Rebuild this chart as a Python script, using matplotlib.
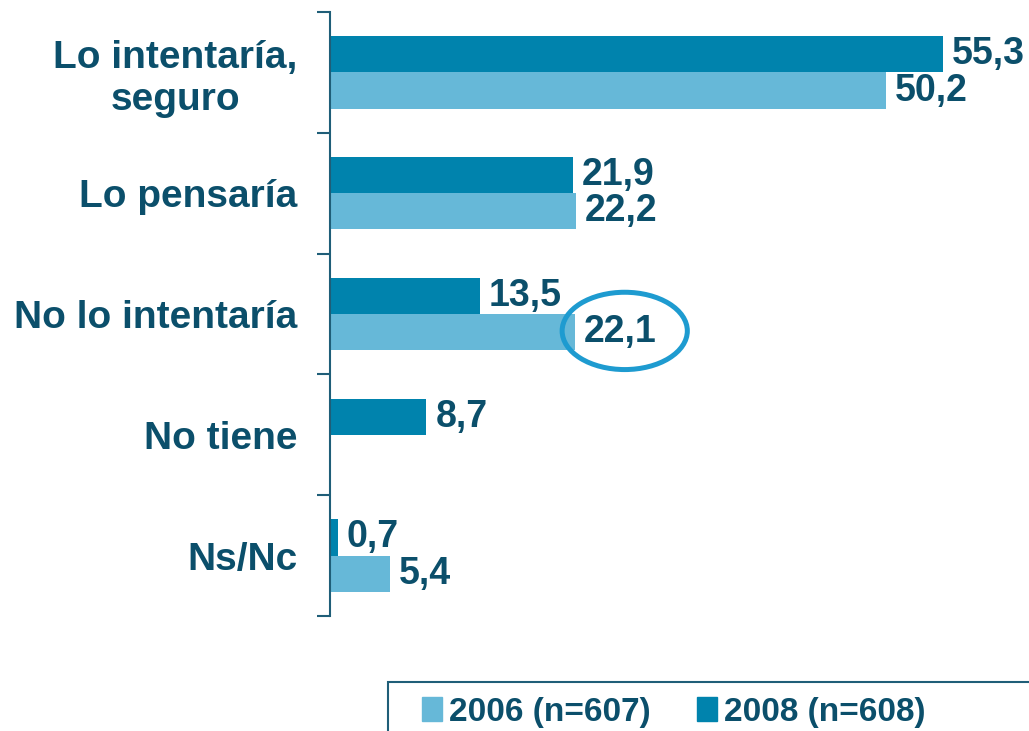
import matplotlib.pyplot as plt
from matplotlib.patches import Ellipse, Rectangle, Patch

categories = ["Lo intentaría,\nseguro", "Lo pensaría", "No lo intentaría", "No tiene", "Ns/Nc"]
vals_2008 = [55.3, 21.9, 13.5, 8.7, 0.7]
vals_2006 = [50.2, 22.2, 22.1, None, 5.4]
legend_labels = ["2006 (n=607)", "2008 (n=608)"]
highlight = 2  # "No lo intentaría", 2006 value circled

c_2006 = "#66B8D8"
c_2008 = "#0083AD"
c_text = "#0B4F6B"
c_axis = "#1F5E78"
c_ring = "#1E9BD0"

plt.rcParams['font.family'] = ['Liberation Sans', 'DejaVu Sans']
plt.rcParams['font.weight'] = 'bold'

W, H = 1029, 731
fig = plt.figure(figsize=(W / 100, H / 100), dpi=100)
ax = fig.add_axes([330 / W, 1 - 616 / H, (W - 330) / W, (616 - 12) / H])

bh = 0.3
y = list(range(len(categories)))
ax.barh([i - bh / 2 for i in y], vals_2008, height=bh, color=c_2008, zorder=2)
y06 = [i + bh / 2 for i, v in zip(y, vals_2006) if v is not None]
v06 = [v for v in vals_2006 if v is not None]
ax.barh(y06, v06, height=bh, color=c_2006, zorder=2)

ax.set_xlim(0, (W - 330) / 11.08)
ax.set_ylim(len(categories) - 0.5, -0.5)


def fmt(v):
    return f"{v:.1f}".replace(".", ",")


for i, v in enumerate(vals_2008):
    ax.annotate(fmt(v), (v, i - bh / 2), xytext=(9, 0), textcoords="offset pixels",
                va="center", ha="left", fontsize=27, color=c_text, fontweight="bold")
for i, v in enumerate(vals_2006):
    if v is None:
        continue
    ax.annotate(fmt(v), (v, i + bh / 2), xytext=(9, 0), textcoords="offset pixels",
                va="center", ha="left", fontsize=27, color=c_text, fontweight="bold")

# ring around the highlighted value
hv = vals_2006[highlight]
ax.add_patch(Ellipse((hv + 4.5, highlight + bh / 2 - 0.01), 11.3, 0.64, fill=False,
                     edgecolor=c_ring, linewidth=3.6, zorder=3, clip_on=False))

# axis styling
for s in ["top", "right", "bottom"]:
    ax.spines[s].set_visible(False)
ax.spines["left"].set_color(c_axis)
ax.spines["left"].set_linewidth(1.5)
ax.set_xticks([])
ax.set_yticks([i - 0.5 for i in range(len(categories) + 1)])
ax.set_yticklabels([])
ax.tick_params(axis="y", which="major", length=9.5, width=1.5, color=c_axis)
ax.set_yticks(y, minor=True)
ax.set_yticklabels(categories, minor=True, fontsize=28, color=c_text,
                   fontweight="bold", multialignment="center")
ax.tick_params(axis="y", which="minor", length=0, pad=23.5)

# legend
fig.patches.append(Rectangle((388 / W, -0.05), 1, 1 - 682 / H + 0.05,
                             transform=fig.transFigure, fill=False,
                             edgecolor=c_axis, linewidth=1.5))
handles = [Patch(color=c_2006), Patch(color=c_2008)]
fig.legend(handles, legend_labels, loc="center left",
           bbox_to_anchor=(422 / W, 1 - 712 / H), ncol=2, frameon=False,
           labelcolor=c_text, prop={"weight": "bold", "size": 24},
           handlelength=0.6, handleheight=0.75, handletextpad=0.2,
           columnspacing=1.4, borderpad=0, borderaxespad=0)

fig.savefig("out.png", dpi=100)
